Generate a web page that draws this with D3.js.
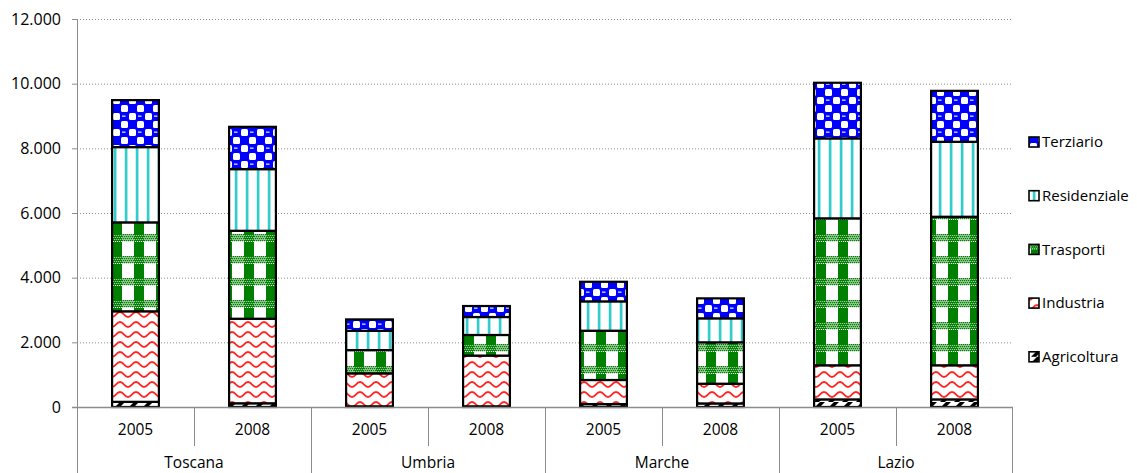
<!DOCTYPE html>
<html><head><meta charset="utf-8">
<script src="https://cdn.jsdelivr.net/npm/d3@7"></script>
<style>
body{margin:0;background:#fff;}
text{font-family:"Open Sans","Liberation Sans",sans-serif;fill:#000;}
</style></head>
<body><svg id="c" width="1137" height="473"></svg>
<script>
const regions = ["Toscana","Umbria","Marche","Lazio"];
const years = ["2005","2008"];
const seriesNames = ["Agricoltura","Industria","Trasporti","Residenziale","Terziario"];
const agricoltura  = [160, 115, 20, 20, 90, 110, 235, 235];
const industria    = [2800, 2615, 1020, 1570, 745, 610, 1055, 1055];
const trasporti    = [2750, 2720, 720, 637, 1524, 1280, 4545, 4594];
const residenziale = [2328, 1907, 597, 556, 908, 742, 2473, 2318];
const terziario    = [1453, 1308, 352, 340, 606, 618, 1720, 1576];
const yTicks = [0,2000,4000,6000,8000,10000,12000];
const yTickLabels = ["0","2.000","4.000","6.000","8.000","10.000","12.000"];

const svg = d3.select("#c");
const defs = svg.append("defs");

// Terziario: blue with white checker squares
let p = defs.append("pattern").attr("id","p-Terziario").attr("patternUnits","userSpaceOnUse").attr("width",16).attr("height",16);
p.append("rect").attr("width",16).attr("height",16).attr("fill","#0000ff");
p.append("rect").attr("x",1).attr("y",1).attr("width",7).attr("height",7).attr("rx",1.5).attr("fill","#fff");
p.append("rect").attr("x",9).attr("y",9).attr("width",7).attr("height",7).attr("rx",1.5).attr("fill","#fff");
p.append("rect").attr("x",10).attr("y",3.5).attr("width",3.5).attr("height",1.3).attr("fill","#e0e6ff");
p.append("rect").attr("x",2).attr("y",11.5).attr("width",3.5).attr("height",1.3).attr("fill","#0000ff");
// Residenziale: cyan vertical stripes
p = defs.append("pattern").attr("id","p-Residenziale").attr("patternUnits","userSpaceOnUse").attr("width",11).attr("height",10);
p.append("rect").attr("width",11).attr("height",10).attr("fill","#fff");
p.append("rect").attr("x",4).attr("width",2.2).attr("height",10).attr("fill","#33cccc");
p.append("rect").attr("x",3.3).attr("width",3.6).attr("height",10).attr("fill","#33cccc").attr("opacity",0.35);
// Trasporti: green plaid
p = defs.append("pattern").attr("id","p-Trasporti").attr("patternUnits","userSpaceOnUse").attr("width",22).attr("height",22);
p.append("rect").attr("width",22).attr("height",22).attr("fill","#fff");
p.append("rect").attr("x",2).attr("y",0).attr("width",10).attr("height",22).attr("fill","#008000");
for(let i=0;i<22;i+=2){ for(let j=14;j<21;j+=2){
  p.append("rect").attr("x",i+((j/2)%2)).attr("y",j).attr("width",1.2).attr("height",1.2).attr("fill","#008000");
  p.append("rect").attr("x",i+1-((j/2)%2)).attr("y",j+1).attr("width",1.2).attr("height",1.2).attr("fill","#fff");
}}
p.append("rect").attr("x",0).attr("y",14).attr("width",22).attr("height",7).attr("fill","#008000").attr("opacity",0.4);
// Industria: red waves
p = defs.append("pattern").attr("id","p-Industria").attr("patternUnits","userSpaceOnUse").attr("width",16).attr("height",10);
p.append("rect").attr("width",16).attr("height",10).attr("fill","#fff");
p.append("path").attr("d","M0,7 C4,7 4,2 8,2 C12,2 12,7 16,7").attr("fill","none").attr("stroke","#ff0000").attr("stroke-width",2).attr("opacity",0.85);
// Agricoltura: black diagonal
p = defs.append("pattern").attr("id","p-Agricoltura").attr("patternUnits","userSpaceOnUse").attr("width",14).attr("height",6);
p.append("rect").attr("width",14).attr("height",6).attr("fill","#fff");
p.append("path").attr("d","M2,6 L8,0 L13,0 L7,6 Z").attr("fill","#000");

const x0 = 77, x1 = 1013, yBase = 407, yTop = 19;
const keys = [];
regions.forEach(r=>years.forEach(yr=>keys.push(r+"|"+yr)));
const x = d3.scaleBand().domain(keys).range([x0,x1]).paddingInner(0.6).paddingOuter(0.3);
const y = d3.scaleLinear().domain([0,12000]).range([yBase,yTop]);

// gridlines
svg.append("g").selectAll("line").data(yTicks.filter(d=>d>0)).join("line")
  .attr("x1",x0).attr("x2",x1).attr("y1",d=>y(d)+0.5).attr("y2",d=>y(d)+0.5)
  .attr("stroke","#8c8c8c").attr("stroke-width",1).attr("stroke-dasharray","1,2");

const table = keys.map((k,i)=>({key:k, Agricoltura:agricoltura[i], Industria:industria[i], Trasporti:trasporti[i], Residenziale:residenziale[i], Terziario:terziario[i]}));
const stack = d3.stack().keys(seriesNames)(table);

const gb = svg.append("g");
stack.forEach(layer=>{
  gb.selectAll(null).data(layer).join("rect")
    .attr("x",d=>x(d.data.key)).attr("width",x.bandwidth())
    .attr("y",d=>y(d[1])).attr("height",d=>y(d[0])-y(d[1]))
    .attr("fill","url(#p-"+layer.key+")")
    .attr("stroke","#000").attr("stroke-width",2.2);
});

// axes
const axisCol = "#8c8c8c";
svg.append("line").attr("x1",x0+0.5).attr("x2",x0+0.5).attr("y1",yTop).attr("y2",473).attr("stroke",axisCol);
svg.append("line").attr("x1",x0-5).attr("x2",x1).attr("y1",yBase+0.5).attr("y2",yBase+0.5).attr("stroke",axisCol).attr("stroke-width",1.5);
const yAxis = svg.append("g");
yAxis.selectAll("line").data(yTicks).join("line").attr("x1",x0-5).attr("x2",x0).attr("y1",d=>y(d)+0.5).attr("y2",d=>y(d)+0.5).attr("stroke",axisCol);
yAxis.selectAll("text").data(yTicks).join("text").attr("x",61).attr("y",d=>y(d)).attr("dy","0.35em")
  .attr("text-anchor","end").attr("font-size",16).text((d,i)=>yTickLabels[i]);

// category separators
const step = x.step();
const groupW = step*years.length;
keys.forEach((k,i)=>{
  if(i===0) return;
  const xx = x0 + i*step;
  const isGroup = i%years.length===0;
  svg.append("line").attr("x1",xx+0.5).attr("x2",xx+0.5).attr("y1",yBase).attr("y2",isGroup?473:446).attr("stroke",axisCol);
});
svg.append("line").attr("x1",x1-0.5).attr("x2",x1-0.5).attr("y1",yBase).attr("y2",473).attr("stroke",axisCol);

svg.append("g").selectAll("text").data(keys).join("text")
  .attr("x",d=>x(d)+x.bandwidth()/2).attr("y",430).attr("dy","0.35em").attr("text-anchor","middle").attr("font-size",15.5)
  .text(d=>d.split("|")[1]);
svg.append("g").selectAll("text").data(regions).join("text")
  .attr("x",(d,i)=>x0+groupW*i+groupW/2).attr("y",468).attr("text-anchor","middle").attr("font-size",15.5)
  .text(d=>d);

// legend
const legendOrder = seriesNames.slice().reverse();
const lg = svg.append("g").selectAll("g").data(legendOrder).join("g")
  .attr("transform",(d,i)=>`translate(1029,${142+i*53.7})`);
lg.append("rect").attr("x",0).attr("y",-5).attr("width",10).attr("height",10)
  .attr("fill",d=>"url(#p-"+d+")").attr("stroke","#000").attr("stroke-width",1.6);
lg.append("text").attr("x",13).attr("y",0).attr("dy","0.35em").attr("font-size",15).text(d=>d);
</script></body></html>
